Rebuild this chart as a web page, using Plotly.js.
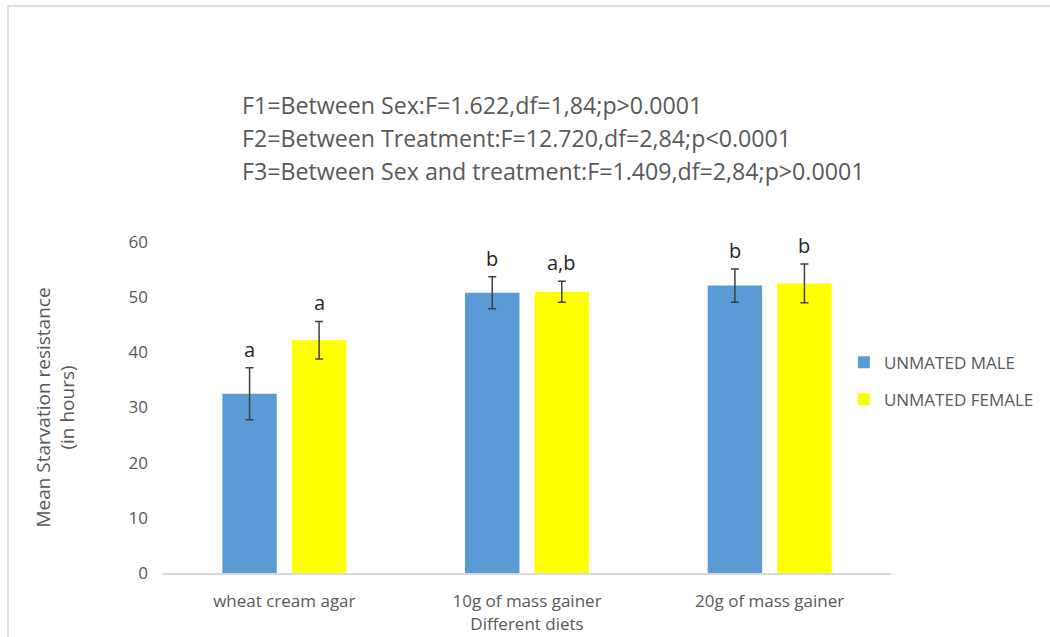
<!DOCTYPE html>
<html>
<head>
<meta charset="utf-8">
<script src="https://cdn.plot.ly/plotly-3.0.1.min.js"></script>
<style>
  html, body { margin: 0; padding: 0; background: #ffffff; overflow: hidden; }
  #frame { position: absolute; left: 7px; top: 5px; width: 1100px; height: 700px;
           border-left: 2px solid #dedede; border-top: 2px solid #dedede; box-sizing: border-box; }
  #chart { position: absolute; left: 0; top: 0; width: 1050px; height: 637px; }
</style>
</head>
<body>
<div id="frame"></div>
<div id="chart"></div>
<script>
// Diet groups on the x axis
const diets = ["wheat cream agar", "10g of mass gainer", "20g of mass gainer"];

// Mean starvation resistance (hours) and error half-widths
const maleMeans = [32.5, 50.8, 52.1];
const maleErr = [4.7, 2.9, 3.0];
const femaleMeans = [42.2, 51.0, 52.5];
const femaleErr = [3.4, 1.9, 3.5];

// Significance letters above each bar
const maleLetters = ["a", "b", "b"];
const femaleLetters = ["a", "a,b", "b"];

// ANOVA summary lines
const statLines = [
  "F1=Between Sex:F=1.622,df=1,84;p>0.0001",
  "F2=Between Treatment:F=12.720,df=2,84;p<0.0001",
  "F3=Between Sex and treatment:F=1.409,df=2,84;p>0.0001"
];

const FONT = "Open Sans, Noto Sans, sans-serif";
const GREY = "#595959";
const BARGAP = 0.427;
const GROUPGAP = 0.217;

const errStyle = { color: "#404040", thickness: 1.5, width: 4 };

const traces = [
  {
    type: "bar", name: "UNMATED MALE", x: diets, y: maleMeans,
    marker: { color: "#5b9bd5" }, legendgroup: "m",
    error_y: Object.assign({ type: "data", array: maleErr, visible: true }, errStyle)
  },
  {
    type: "bar", name: "UNMATED FEMALE", x: diets, y: femaleMeans,
    marker: { color: "#ffff00" }, legendgroup: "f",
    error_y: Object.assign({ type: "data", array: femaleErr, visible: true }, errStyle)
  }
];

// Letter annotations sit above the error bar caps, centred on each bar
const slot = (1 - BARGAP) / 2;
const annotations = [];
diets.forEach((d, i) => {
  annotations.push({
    x: i - slot / 2, y: maleMeans[i] + maleErr[i], xref: "x", yref: "y",
    text: maleLetters[i], showarrow: false, yanchor: "bottom", yshift: 3,
    font: { family: FONT, size: 20, color: "#262626" }
  });
  annotations.push({
    x: i + slot / 2, y: femaleMeans[i] + femaleErr[i], xref: "x", yref: "y",
    text: femaleLetters[i], showarrow: false, yanchor: "bottom", yshift: 3,
    font: { family: FONT, size: 20, color: "#262626" }
  });
});
statLines.forEach((t, k) => {
  annotations.push({
    x: 240, y: 105 + 33 * k, xref: "paper", yref: "paper", text: t,
    showarrow: false, xanchor: "left", yanchor: "middle",
    font: { family: FONT, size: 23.2, color: GREY }
  });
});
// Convert the stat-line pixel anchors into paper fractions
const L = 163, R = 158, T = 242, B = 64, W = 1050, H = 637;
annotations.forEach(a => {
  if (a.xref === "paper") {
    a.x = (a.x - L) / (W - L - R);
    a.y = (H - B - a.y) / (H - T - B);
  }
});

const layout = {
  width: W, height: H,
  margin: { l: L, r: R, t: T, b: B, pad: 0 },
  paper_bgcolor: "rgba(0,0,0,0)",
  plot_bgcolor: "rgba(0,0,0,0)",
  barmode: "group",
  bargap: BARGAP,
  bargroupgap: GROUPGAP,
  showlegend: true,
  legend: {
    x: 0.934, y: 0.69, xanchor: "left", yanchor: "top",
    font: { family: FONT, size: 17, color: GREY },
    traceorder: "grouped", tracegroupgap: 12,
    bgcolor: "rgba(0,0,0,0)"
  },
  xaxis: {
    type: "category",
    showline: true, linecolor: "#d9d9d9", linewidth: 1.5,
    ticks: "", showgrid: false, zeroline: false, ticklabelstandoff: 12,
    tickfont: { family: FONT, size: 17, color: GREY },
    title: { text: "Different diets", standoff: 1, font: { family: FONT, size: 17, color: GREY } }
  },
  yaxis: {
    range: [0, 60], dtick: 10, showgrid: false, zeroline: false,
    showline: false, ticks: "", ticklabelstandoff: 14,
    tickfont: { family: FONT, size: 17, color: GREY },
    title: {
      text: "Mean Starvation resistance<br>(in hours)", standoff: 48,
      font: { family: FONT, size: 19, color: GREY }
    }
  },
  annotations: annotations
};

Plotly.newPlot("chart", traces, layout, { displayModeBar: false, staticPlot: true });
</script>
</body>
</html>
